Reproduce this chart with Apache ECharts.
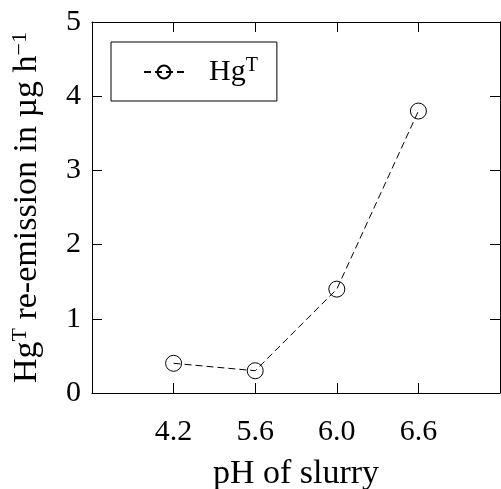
<!DOCTYPE html>
<html>
<head>
<meta charset="utf-8">
<script src="https://cdn.jsdelivr.net/npm/echarts@6/dist/echarts.min.js"></script>
<style>
  html, body { margin: 0; padding: 0; background: #fff; }
  #chart { width: 501px; height: 489px; }
</style>
</head>
<body>
<div id="chart"></div>
<script>
// pH categories and measured re-emission
var phLabels = ['4.2', '5.6', '6.0', '6.6'];
var hgValues = [0.4, 0.3, 1.4, 3.8];
var yTicks = [0, 1, 2, 3, 4, 5];

var font = 'Liberation Serif';
var fs = 30;     // tick labels
var nameFs = 34; // axis titles

var points = hgValues.map(function (v, i) { return [i + 1, v]; });

var chart = echarts.init(document.getElementById('chart'));

// box frame with ticks pointing inward on all four sides
function frame(extra) {
    var ax = {
        type: 'value',
        min: 0,
        max: 5,
        interval: 1,
        axisLine: { show: true, onZero: false, lineStyle: { color: '#000', width: 1 } },
        axisTick: { show: true, inside: true, length: 10, lineStyle: { color: '#000', width: 1 } },
        splitLine: { show: false },
        axisLabel: { show: false }
    };
    for (var k in extra) ax[k] = extra[k];
    return ax;
}

var option = {
    backgroundColor: '#fff',
    animation: false,
    grid: { left: 92, right: 1, top: 22, bottom: 96, outerBoundsMode: 'none', containLabel: false },
    legend: {
        left: 111,
        top: 42,
        orient: 'vertical',
        borderColor: '#000',
        borderWidth: 1,
        borderRadius: 0,
        padding: [14, 19, 14, 32],
        itemWidth: 40,
        itemHeight: 16,
        data: ['HgT'],
        formatter: function () { return 'Hg{sup|T}'; },
        textStyle: {
            fontFamily: font,
            fontSize: fs,
            color: '#000',
            padding: [0, 0, 0, 20],
            rich: {
                sup: { fontFamily: font, fontSize: 20, padding: [0, 0, 12, 0] }
            }
        }
    },
    xAxis: [frame({
        position: 'bottom',
        name: 'pH of slurry',
        nameLocation: 'middle',
        nameGap: 64,
        nameTextStyle: { fontFamily: font, fontSize: nameFs, color: '#000' },
        axisLabel: {
            show: true,
            margin: 24,
            fontFamily: font,
            fontSize: fs,
            color: '#000',
            formatter: function (v) { return phLabels[v - 1] || ''; }
        }
    }), frame({ position: 'top' })],
    yAxis: [frame({
        position: 'left',
        name: 'Hg{sup|T} re-emission in µg h{sup|−1}',
        nameLocation: 'middle',
        nameGap: 47,
        nameTextStyle: {
            fontFamily: font,
            fontSize: nameFs,
            color: '#000',
            rich: {
                sup: { fontFamily: font, fontSize: 22, padding: [0, 0, 14, 0] }
            }
        },
        axisLabel: {
            show: true,
            margin: 11,
            fontFamily: font,
            fontSize: fs,
            color: '#000',
            formatter: function (v) { return yTicks.indexOf(v) >= 0 ? String(v) : ''; }
        }
    }), frame({ position: 'right' })],
    series: [{
        name: 'HgT',
        type: 'line',
        data: points,
        symbol: 'circle',
        symbolSize: 16,
        itemStyle: { color: 'rgba(0,0,0,0)', borderColor: '#000', borderWidth: 1 },
        lineStyle: { color: '#000', width: 1, type: [7, 4] },
        z: 3
    }]
};

chart.setOption(option);
</script>
</body>
</html>
